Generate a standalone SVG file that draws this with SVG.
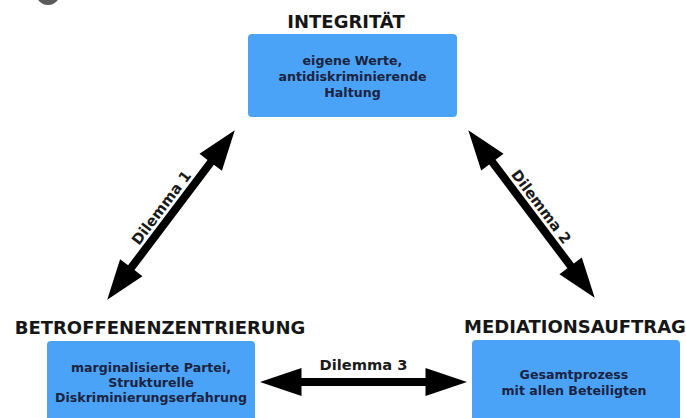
<svg xmlns="http://www.w3.org/2000/svg" width="686" height="418" viewBox="0 0 686 418">
<style>
.box{fill:#4ba3f8}
.title{font-family:"DejaVu Sans","Liberation Sans",sans-serif;font-weight:700;font-size:18px;fill:#161616;text-anchor:middle}
.body{font-family:"DejaVu Sans","Liberation Sans",sans-serif;font-weight:700;font-size:12.6px;fill:#1b2340;text-anchor:middle}
.lbl{font-family:"DejaVu Sans","Liberation Sans",sans-serif;font-weight:700;font-size:14.7px;fill:#1a1a1a;text-anchor:middle}
.arrow{fill:#000}
</style>
<rect width="686" height="418" fill="#fff"/>
<circle cx="48" cy="-7" r="12" fill="#5a5a5a"/>
<g id="integritaet">
<text class="title" x="346" y="28">INTEGRITÄT</text>
<rect class="box" x="248" y="34" width="209" height="83" rx="4"/>
<text class="body" x="352.5" y="65">eigene Werte,</text>
<text class="body" x="352.5" y="81">antidiskriminierende</text>
<text class="body" x="352.5" y="97">Haltung</text>
</g>
<g id="betroffenenzentrierung">
<text class="title" x="160" y="334">BETROFFENENZENTRIERUNG</text>
<rect class="box" x="47" y="341" width="208" height="90" rx="4"/>
<text class="body" x="151" y="372">marginalisierte Partei,</text>
<text class="body" x="151" y="387">Strukturelle</text>
<text class="body" x="151" y="402">Diskriminierungserfahrung</text>
</g>
<g id="mediationsauftrag">
<text class="title" x="575" y="333">MEDIATIONSAUFTRAG</text>
<rect class="box" x="472" y="340" width="208" height="90" rx="4"/>
<text class="body" x="574" y="379">Gesamtprozess</text>
<text class="body" x="574" y="395">mit allen Beteiligten</text>
</g>
<g id="connectors">
<g transform="translate(171 215) rotate(-53)">
<polygon class="arrow" points="-106,0 -66,-14 -66,-4 66,-4 66,-14 106,0 66,14 66,4 -66,4 -66,14"/>
<text class="lbl" x="0" y="-7">Dilemma 1</text>
</g>
<g transform="translate(531.5 214) rotate(53)">
<polygon class="arrow" points="-105,0 -65,-14 -65,-4 65,-4 65,-14 105,0 65,14 65,4 -65,4 -65,14"/>
<text class="lbl" x="0" y="-7">Dilemma 2</text>
</g>
<g transform="translate(363.5 382)">
<polygon class="arrow" points="-103.5,0 -62,-14 -62,-4 62,-4 62,-14 103.5,0 62,14 62,4 -62,4 -62,14"/>
<text class="lbl" x="0" y="-12">Dilemma 3</text>
</g>
</g>
</svg>
